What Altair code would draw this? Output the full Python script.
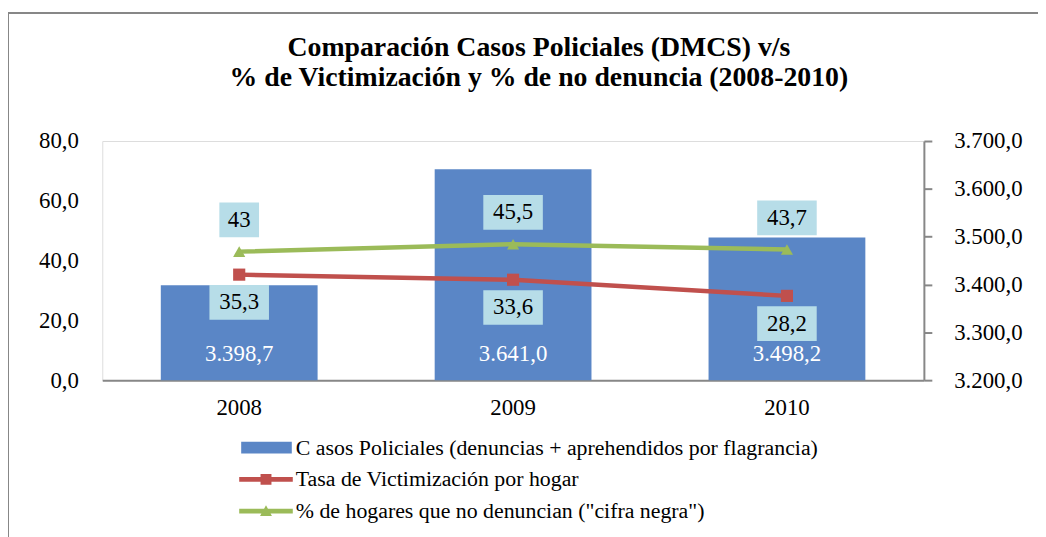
import altair as alt
import pandas as pd

# ---------------- data ----------------
years = ["2008", "2009", "2010"]
casos = [3398.7, 3641.0, 3498.2]          # right axis (bars)
victimizacion = [35.3, 33.6, 28.2]        # left axis (red line)
cifra_negra = [43.0, 45.5, 43.7]          # left axis (green line)

serie_names = [
    "C asos Policiales (denuncias + aprehendidos por flagrancia)",
    "Tasa de Victimización por hogar",
    '% de hogares que no denuncian ("cifra negra")',
]
title_lines = [
    "Comparación Casos Policiales (DMCS) v/s",
    "% de Victimización y % de no denuncia (2008-2010)",
]
left_ticks = [0, 20, 40, 60, 80]
right_ticks = [3200, 3300, 3400, 3500, 3600, 3700]

# ---------------- styles ----------------
BLUE = "#5A86C6"
RED = "#C0504D"
GREEN = "#9BBB59"
BOX = "#B7DDE8"
GRAY = "#878787"
FONT = "Liberation Serif"
LBL = 23


def label_text(v):
    s = f"{v:.1f}"
    if s.endswith(".0"):
        s = s[:-2]
    return s


def box_path(v, off):
    w = 20 + 10 * len(label_text(v))
    h = 35
    return f"M{-w/2},{off - h/2}H{w/2}V{off + h/2}H{-w/2}Z"


bars_df = pd.DataFrame({"year": years, "casos": casos})
red_df = pd.DataFrame({"year": years, "valor": victimizacion})
green_df = pd.DataFrame({"year": years, "valor": cifra_negra})
RED_OFF, GREEN_OFF = 28, -32
red_df["box"] = [box_path(v, RED_OFF) for v in victimizacion]
green_df["box"] = [box_path(v, GREEN_OFF) for v in cifra_negra]
leg_df = pd.DataFrame({"serie": serie_names})

x = alt.X(
    "year:N",
    scale=alt.Scale(paddingInner=0.4275, paddingOuter=0.21375),
    axis=alt.Axis(
        title=None, labelAngle=0, ticks=False, domainColor=GRAY, domainWidth=2,
        labelPadding=17, labelFontSize=LBL, labelFont=FONT, labelColor="black",
    ),
)
yL = alt.Y(
    "valor:Q",
    scale=alt.Scale(domain=[0, 80]),
    axis=alt.Axis(
        orient="left", title=None, values=left_ticks, format=".1f", domain=False,
        ticks=False, grid=False, labelPadding=24, labelFontSize=LBL, labelFont=FONT,
        labelColor="black",
    ),
)
yR = alt.Y(
    "casos:Q",
    scale=alt.Scale(domain=[3200, 3700], zero=False),
    axis=alt.Axis(
        orient="right", title=None, values=right_ticks, format=",.1f", domain=True,
        domainColor=GRAY, domainWidth=2, ticks=True, tickColor=GRAY, tickSize=8,
        tickWidth=2, grid=False, labelPadding=22, labelFontSize=LBL, labelFont=FONT,
        labelColor="black",
    ),
)

# ---------------- bars (right axis) ----------------
bars = alt.Chart(bars_df).mark_bar(color=BLUE).encode(x=x, y=yR, y2=alt.datum(3200))
bar_text = alt.Chart(bars_df).mark_text(
    dy=-26, color="white", fontSize=LBL, font=FONT, baseline="middle"
).encode(x=x, y=alt.datum(3200), text=alt.Text("casos:Q", format=",.1f"))
right_group = alt.layer(bars, bar_text)

# ---------------- lines (left axis) ----------------
def series_layers(df, color, shape, off):
    line = alt.Chart(df).mark_line(color=color, strokeWidth=4.5).encode(x=x, y=yL)
    pts = alt.Chart(df).mark_point(
        shape=shape, filled=True, color=color, size=150, opacity=1
    ).encode(x=x, y=yL)
    boxes = alt.Chart(df).mark_point(
        filled=True, fill=BOX, strokeWidth=0, opacity=1, size=4
    ).encode(x=x, y=yL, shape=alt.Shape("box:N", scale=None, legend=None))
    txt = alt.Chart(df).mark_text(
        dy=off, fontSize=LBL, font=FONT, color="black", baseline="middle"
    ).encode(x=x, y=yL, text=alt.Text("valor:Q", format=".1~f"))
    return [line, pts, boxes, txt]


left_group = alt.layer(
    *series_layers(red_df, RED, "square", RED_OFF),
    *series_layers(green_df, GREEN, "triangle-up", GREEN_OFF),
).resolve_scale(shape="independent")

# ---------------- legend ----------------
# symbol unit = 11px (symbolSize 484); paths extend to the right of the nominal symbol box
leg_paths = [
    "M-0.818,-0.545H3.818V0.545H-0.818Z",
    "M-1,-0.21H3.909V0.21H-1Z M0.955,-0.5H1.955V0.5H0.955Z",
    "M-1,-0.21H3.909V0.21H-1Z M0.909,0.4545L1.4545,-0.545L2,0.4545Z",
]
leg = alt.Legend(
    title=None, orient="none", legendX=138, legendY=298, direction="vertical",
    symbolSize=484, labelFont=FONT, labelFontSize=22, labelColor="black",
    labelOffset=35, rowPadding=10, symbolStrokeWidth=0, padding=0, symbolOpacity=1,
    labelLimit=800,
)
legend_layer = alt.Chart(leg_df).mark_point(filled=True, opacity=1).encode(
    color=alt.Color("serie:N", scale=alt.Scale(domain=serie_names, range=[BLUE, RED, GREEN]), legend=leg),
    shape=alt.Shape("serie:N", scale=alt.Scale(domain=serie_names, range=leg_paths), legend=leg),
).transform_filter("false")

# ---------------- frame + title ----------------
frame_df = pd.DataFrame({"a": [0]})
frame_top = alt.Chart(frame_df).mark_rule(color=GRAY, strokeWidth=2).encode(
    x=alt.value(-95), x2=alt.value(960), y=alt.value(-129)
)
frame_left = alt.Chart(frame_df).mark_rule(color=GRAY, strokeWidth=2).encode(
    x=alt.value(-95), y=alt.value(-129), y2=alt.value(420)
)
title_mark = alt.Chart(frame_df).mark_text(
    font=FONT, fontSize=28, fontWeight="bold", color="black", align="center",
    baseline="top", lineHeight=31,
).encode(x=alt.value(440), y=alt.value(-108), text=alt.value(title_lines))

chart = alt.layer(
    frame_top, frame_left, title_mark, right_group, left_group, legend_layer
).resolve_scale(
    y="independent", shape="independent", color="independent"
).properties(
    width=828,
    height=241,
    padding={"left": 95, "top": 132, "right": 115, "bottom": 156},
    autosize=alt.AutoSizeParams(type="none"),
).configure_view(stroke=None).configure(
    locale={"number": {"decimal": ",", "thousands": ".", "grouping": [3], "currency": ["", ""]}}
)

chart.save("out.html", embed_options={"renderer": "svg", "actions": False})
